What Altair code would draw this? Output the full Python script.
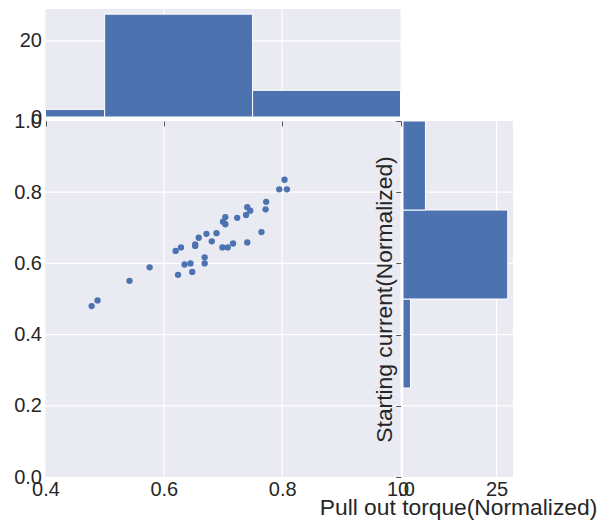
import altair as alt
import pandas as pd

# ---------------- data ----------------
pull_out_torque = [0.478, 0.488, 0.542, 0.576, 0.620, 0.629, 0.624, 0.635, 0.645, 0.648,
                   0.653, 0.653, 0.659, 0.669, 0.669, 0.672, 0.681, 0.689, 0.699, 0.708,
                   0.700, 0.704, 0.704, 0.717, 0.724, 0.739, 0.741, 0.746, 0.741, 0.765,
                   0.772, 0.773, 0.795, 0.804, 0.808]
starting_current = [0.480, 0.496, 0.551, 0.589, 0.635, 0.645, 0.568, 0.597, 0.600, 0.576,
                    0.649, 0.653, 0.672, 0.617, 0.600, 0.683, 0.662, 0.685, 0.645, 0.645,
                    0.717, 0.710, 0.730, 0.656, 0.728, 0.736, 0.758, 0.748, 0.659, 0.688,
                    0.752, 0.773, 0.808, 0.835, 0.808]

# marginal histogram of pull out torque (top)
top_bin_start = [0.4, 0.5, 0.75]
top_bin_end = [0.5, 0.75, 1.0]
top_counts = [2, 27, 7]

# marginal histogram of starting current (right)
right_bin_start = [0.25, 0.5, 0.75]
right_bin_end = [0.5, 0.75, 1.0]
right_counts = [2, 28, 6]

# axis limits and ticks
torque_limits = [0.4, 1.0]
current_limits = [0.0, 1.0]
top_count_limits = [0, 28.35]
right_count_limits = [0, 29.4]

torque_ticks = [0.4, 0.6, 0.8, 1.0]
current_ticks = [0.0, 0.2, 0.4, 0.6, 0.8, 1.0]
top_count_ticks = [0, 20]
right_count_ticks = [0, 25]

torque_grid = [0.6, 0.8]
current_grid = [0.2, 0.4, 0.6, 0.8]
top_count_grid = [20]
right_count_grid = [25]

x_label = "Pull out torque(Normalized)"
y_label = "Starting current(Normalized)"

# ---------------- styling ----------------
BLUE = "#4C72B0"
PANEL = "#EAEAF2"
TXT = "#262626"
FONT = "Liberation Sans"
W, H = 608, 527


def sc(domain, rng):
    return alt.Scale(domain=domain, range=rng, nice=False, zero=False)


X_MAIN = sc(torque_limits, [45.5, 400.5])
Y_MAIN = sc(current_limits, [477, 121])
X_TOP = sc(torque_limits, [45.5, 400.5])
Y_TOP = sc(top_count_limits, [117, 9])
X_RIGHT = sc(right_count_limits, [403, 513])
Y_RIGHT = sc(current_limits, [477, 121])


def panel(xlim, ylim, xs, ys):
    df = pd.DataFrame({"x0": [xlim[0]], "x1": [xlim[1]], "y0": [ylim[0]], "y1": [ylim[1]]})
    return alt.Chart(df).mark_rect(color=PANEL).encode(
        x=alt.X("x0:Q", scale=xs, axis=None), x2="x1:Q",
        y=alt.Y("y0:Q", scale=ys, axis=None), y2="y1:Q")


def vgrid(vals, ylim, xs, ys):
    df = pd.DataFrame({"v": vals, "lo": ylim[0], "hi": ylim[1]})
    return alt.Chart(df).mark_rule(color="white", strokeWidth=1.2).encode(
        x=alt.X("v:Q", scale=xs, axis=None),
        y=alt.Y("lo:Q", scale=ys, axis=None), y2="hi:Q")


def hgrid(vals, xlim, xs, ys):
    df = pd.DataFrame({"v": vals, "lo": xlim[0], "hi": xlim[1]})
    return alt.Chart(df).mark_rule(color="white", strokeWidth=1.2).encode(
        y=alt.Y("v:Q", scale=ys, axis=None),
        x=alt.X("lo:Q", scale=xs, axis=None), x2="hi:Q")


label_style = dict(labelFont=FONT, labelFontSize=20, labelColor=TXT,
                   labelFlush=False, labelOverlap=False, domain=False, grid=False)

# ---------------- main scatter ----------------
scatter = alt.Chart(pd.DataFrame({"t": pull_out_torque, "c": starting_current})).mark_circle(
    size=40, color=BLUE, opacity=1).encode(
    x=alt.X("t:Q", scale=X_MAIN, axis=alt.Axis(
        orient="bottom", offset=477 - H, values=torque_ticks, format=".1f", title=None,
        ticks=False, labelPadding=2, **label_style)),
    y=alt.Y("c:Q", scale=Y_MAIN, axis=alt.Axis(
        orient="left", offset=-45.5, values=current_ticks, format=".1f", title=None,
        ticks=False, labelPadding=4, **label_style)),
)

# ---------------- top histogram ----------------
top_df = pd.DataFrame({"s": top_bin_start, "e": top_bin_end, "n": top_counts, "b": 0})
top_bars = alt.Chart(top_df).mark_rect(color=BLUE, stroke="white", strokeWidth=1).encode(
    x=alt.X("s:Q", scale=X_TOP, axis=alt.Axis(
        orient="bottom", offset=121 - H, values=torque_ticks, title=None, labels=False,
        ticks=True, tickSize=5, tickColor="#555555", tickWidth=1, domain=False, grid=False,
        zindex=1)),
    x2="e:Q",
    y=alt.Y("n:Q", scale=Y_TOP, axis=alt.Axis(
        orient="left", offset=-45.5, values=top_count_ticks, format="d", title=None,
        ticks=False, labelPadding=4, **label_style)),
    y2="b:Q",
)

# ---------------- right histogram ----------------
right_df = pd.DataFrame({"s": right_bin_start, "e": right_bin_end, "n": right_counts, "b": 0})
right_bars = alt.Chart(right_df).mark_rect(color=BLUE, stroke="white", strokeWidth=1).encode(
    x=alt.X("n:Q", scale=X_RIGHT, axis=alt.Axis(
        orient="bottom", offset=477 - H, values=right_count_ticks, format="d",
        title=x_label, titleY=37, titleBaseline="alphabetic", titleFont=FONT,
        titleFontSize=22.8, titleFontWeight="normal", titleColor=TXT,
        ticks=False, labelPadding=2, **label_style)),
    x2="b:Q",
    y=alt.Y("s:Q", scale=Y_RIGHT, axis=alt.Axis(
        orient="left", offset=-400.7, values=current_ticks, labels=False,
        ticks=True, tickSize=5, tickColor="#555555", tickWidth=1, domain=False, grid=False,
        title=y_label, titleX=-9.4, titleAngle=270, titleBaseline="alphabetic",
        titleFont=FONT, titleFontSize=22.8, titleFontWeight="normal", titleColor=TXT,
        zindex=1)),
    y2="e:Q",
)

chart = alt.layer(
    panel(torque_limits, current_limits, X_MAIN, Y_MAIN),
    vgrid(torque_grid, current_limits, X_MAIN, Y_MAIN),
    hgrid(current_grid, torque_limits, X_MAIN, Y_MAIN),
    panel(torque_limits, top_count_limits, X_TOP, Y_TOP),
    vgrid(torque_grid, top_count_limits, X_TOP, Y_TOP),
    hgrid(top_count_grid, torque_limits, X_TOP, Y_TOP),
    panel(right_count_limits, current_limits, X_RIGHT, Y_RIGHT),
    vgrid(right_count_grid, current_limits, X_RIGHT, Y_RIGHT),
    hgrid(current_grid, right_count_limits, X_RIGHT, Y_RIGHT),
    top_bars,
    right_bars,
    scatter,
).resolve_scale(x="independent", y="independent").resolve_axis(
    x="independent", y="independent"
).properties(
    width=W, height=H, padding=0, autosize=alt.AutoSizeParams(type="none"),
    background="white",
).configure_view(stroke=None)

chart.save("out.html", embed_options={"renderer": "svg", "actions": False})
